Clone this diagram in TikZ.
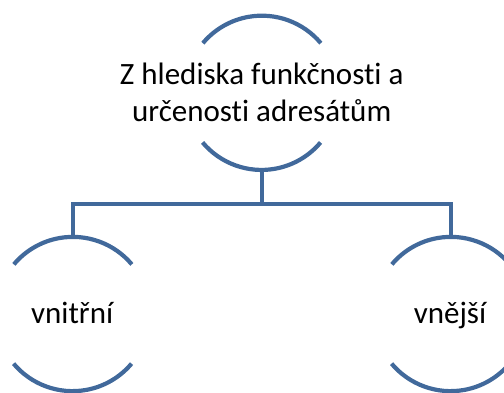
\documentclass[tikz,border=0pt]{standalone}
\usepackage{fontspec}
\setmainfont{Carlito}[Ligatures={NoCommon,NoRare,NoContextual},RawFeature={-liga;-dlig;-calt;-clig}]
\definecolor{lineblue}{HTML}{41699B}
\begin{document}
\begin{tikzpicture}[x=1bp,y=1bp,
  ring/.style={circle, draw=none, minimum size=154bp, inner sep=0pt},
  label/.style={inner sep=0pt, align=center,
    font=\fontsize{31bp}{37.5bp}\selectfont},
  rim/.style={draw=lineblue, line width=4.2bp, line cap=butt},
  link/.style={draw=lineblue, line width=4.2bp, line join=miter}]
\useasboundingbox (0,0) rectangle (504,-392);
\clip (0,0) rectangle (504,-392);
\node[ring] (top) at (261.7,-92.8) {};
\node[ring] (left) at (72.7,-314) {};
\node[ring] (right) at (450.7,-314) {};
\node[label] (toptext) at (261.7,-92.3) {Z hlediska funkčnosti a\\určenosti adresátům};
\node[label, anchor=base] (lefttext) at (72.2,-323.3) {vnitřní};
\node[label, anchor=base] (righttext) at (450,-323.3) {vnější};
\foreach \n in {top,left,right}{
  \draw[rim] (\n.40) arc[start angle=40,end angle=140,radius=77bp];
  \draw[rim] (\n.220) arc[start angle=220,end angle=320,radius=77bp];
}
\coordinate (bus) at (261.7,-204);
\draw[link] (top.south) -- (bus) -| (left.north);
\draw[link] (bus) -| (right.north);
\end{tikzpicture}
\end{document}
